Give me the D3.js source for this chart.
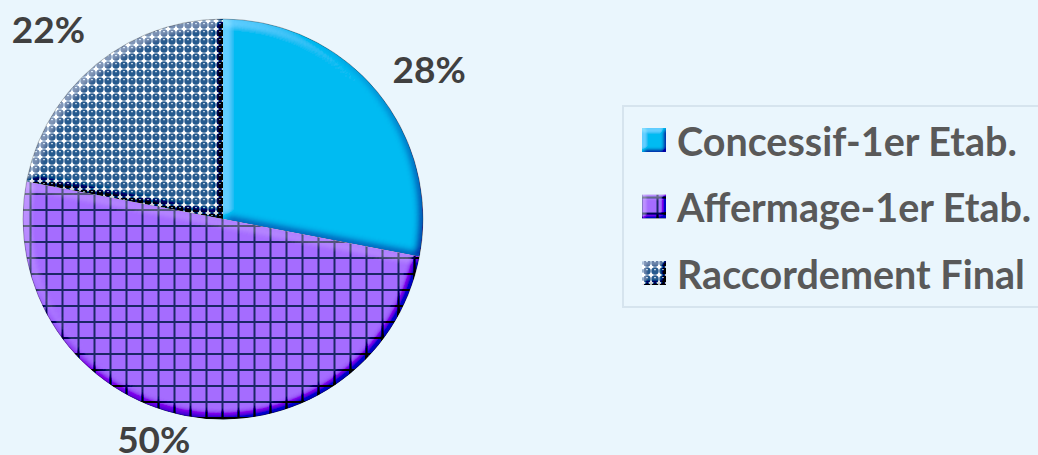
<!DOCTYPE html>
<html>
<head>
<meta charset="utf-8">
<script src="https://cdn.jsdelivr.net/npm/d3@7/dist/d3.min.js"></script>
<style>
  html, body { margin: 0; padding: 0; background: #eaf6fd; }
  svg { display: block; }
  text { font-family: Lato, "Open Sans", sans-serif; font-weight: bold; }
</style>
</head>
<body>
<svg id="chart" width="1038" height="455"></svg>
<script>
// data
var categories = ["Concessif-1er Etab.", "Affermage-1er Etab.", "Raccordement Final"];
var shares = [28, 50, 22];
var percentLabels = ["28%", "50%", "22%"];

// look
var width = 1038,
	height = 455,
	cx = 223,
	cy = 219,
	radius = 200,
	labelRadius = 252,
	labelNudge = [[12, 10], [-22, -28], [-14, 4]],
	fills = ["url(#solidCyan)", "url(#gridPurple)", "url(#dotBlue)"];

var svg = d3.select("#chart");
var defs = svg.append("defs");

// patterns
var pCyan = defs.append("pattern").attr("id", "solidCyan")
	.attr("patternUnits", "userSpaceOnUse").attr("width", 8).attr("height", 8);
pCyan.append("rect").attr("width", 8).attr("height", 8).attr("fill", "#00bbf2");

var pGrid = defs.append("pattern").attr("id", "gridPurple")
	.attr("patternUnits", "userSpaceOnUse").attr("width", 16).attr("height", 16)
	.attr("x", 14.5).attr("y", 6);
pGrid.append("rect").attr("width", 16).attr("height", 16).attr("fill", "#a56cff");
pGrid.append("rect").attr("width", 2).attr("height", 16).attr("fill", "#1d2766");
pGrid.append("rect").attr("width", 16).attr("height", 2).attr("fill", "#1d2766");

var pDot = defs.append("pattern").attr("id", "dotBlue")
	.attr("patternUnits", "userSpaceOnUse").attr("width", 8).attr("height", 8)
	.attr("x", 1).attr("y", 2);
pDot.append("rect").attr("width", 8).attr("height", 8).attr("fill", "#ffffff");
pDot.append("circle").attr("cx", 4).attr("cy", 4).attr("r", 3.7).attr("fill", "#285a8e");
pDot.append("rect").attr("x", 3).attr("y", 2.2).attr("width", 2).attr("height", 1).attr("fill", "#dfe9f3");

// bevel filter: light from the top left, edges lit or shaded
function bevel(id, blur, scale, k) {
	var f = defs.append("filter").attr("id", id)
		.attr("x", "-5%").attr("y", "-5%").attr("width", "110%").attr("height", "110%");
	f.append("feGaussianBlur").attr("in", "SourceAlpha").attr("stdDeviation", blur).attr("result", "blur");
	f.append("feDiffuseLighting").attr("in", "blur").attr("surfaceScale", scale)
		.attr("diffuseConstant", 1).attr("lighting-color", "#ffffff").attr("result", "shade")
		.append("feDistantLight").attr("azimuth", 225).attr("elevation", 45);
	f.append("feComposite").attr("in", "SourceGraphic").attr("in2", "shade")
		.attr("operator", "arithmetic").attr("k1", 0).attr("k2", 1).attr("k3", k).attr("k4", -0.707 * k)
		.attr("result", "lit");
	f.append("feComposite").attr("in", "lit").attr("in2", "SourceAlpha").attr("operator", "in");
}
bevel("bevel", 4, 5, 0.75);
bevel("bevelSmall", 2, 3, 0.8);

var pie = d3.pie().sort(null).value(function(d) { return d; });
var arcs = pie(shares);
var arc = d3.arc().innerRadius(0).outerRadius(radius);
var labelArc = d3.arc().innerRadius(labelRadius).outerRadius(labelRadius);

var g = svg.append("g").attr("transform", "translate(" + cx + "," + cy + ")");

g.selectAll("path.slice")
	.data(arcs)
	.enter()
	.append("path")
	.attr("class", "slice")
	.attr("d", arc)
	.attr("fill", function(d, i) { return fills[i]; })
	.attr("filter", "url(#bevel)");

// thin outer rim
g.append("circle").attr("r", radius).attr("fill", "none")
	.attr("stroke", "rgba(0,0,0,0.25)").attr("stroke-width", 1);

g.selectAll("text.pct")
	.data(arcs)
	.enter()
	.append("text")
	.attr("class", "pct")
	.attr("x", function(d, i) { return labelArc.centroid(d)[0] + labelNudge[i][0]; })
	.attr("y", function(d, i) { return labelArc.centroid(d)[1] + labelNudge[i][1]; })
	.attr("text-anchor", "middle")
	.attr("dominant-baseline", "central")
	.attr("fill", "#404040")
	.style("font-size", "37px")
	.text(function(d, i) { return percentLabels[i]; });

// legend
var legend = svg.append("g").attr("transform", "translate(623,106)");
legend.append("rect")
	.attr("width", 430).attr("height", 201)
	.attr("fill", "none").attr("stroke", "#d6e4ee").attr("stroke-width", 2);

var rows = legend.selectAll("g.row")
	.data(categories)
	.enter()
	.append("g")
	.attr("class", "row")
	.attr("transform", function(d, i) { return "translate(19," + (34 + i * 66.5) + ")"; });

rows.append("rect")
	.attr("x", 0).attr("y", -12).attr("width", 24).attr("height", 24)
	.attr("fill", function(d, i) { return fills[i]; })
	.attr("filter", "url(#bevelSmall)");

rows.append("text")
	.attr("x", 35)
	.attr("dominant-baseline", "central")
	.attr("fill", "#595959")
	.style("font-size", "39.5px")
	.text(function(d) { return d; });
</script>
</body>
</html>
